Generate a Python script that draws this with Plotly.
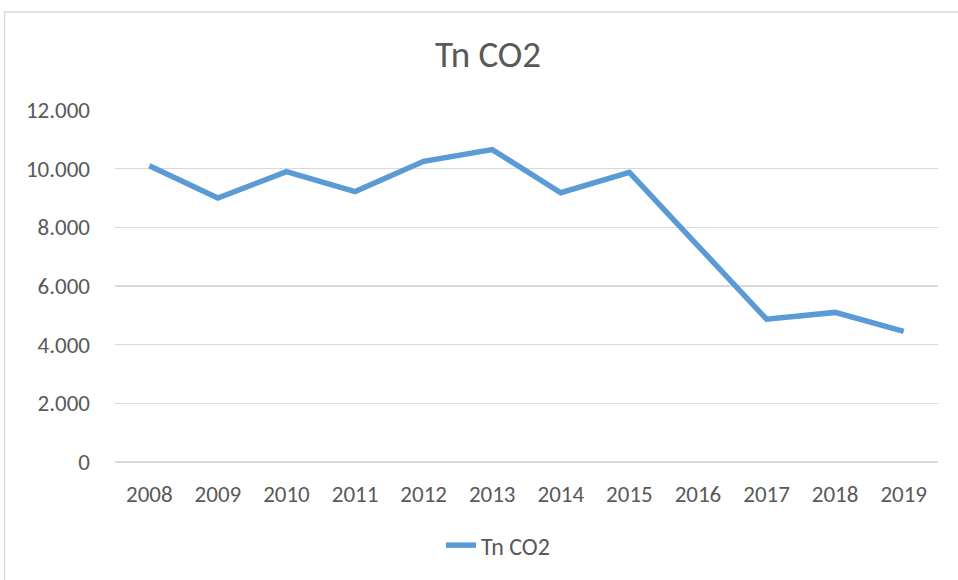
import plotly.graph_objects as go

years = ["2008", "2009", "2010", "2011", "2012", "2013", "2014", "2015", "2016", "2017", "2018", "2019"]
tn_co2 = [10100, 9000, 9900, 9220, 10250, 10650, 9180, 9870, 7370, 4870, 5100, 4450]
series_name = "Tn CO2"
y_ticks = [0, 2000, 4000, 6000, 8000, 10000, 12000]

FONT = "Carlito, Calibri, Lato, 'Open Sans', sans-serif"
W, H = 958, 580
L, T = 115, 110
pw, ph = 823, 354
R, B = W - L - pw, H - T - ph

def px_x(x):
    return (x - L) / pw

def px_y(y):
    return (T + ph - y) / ph

fig = go.Figure()
fig.add_trace(go.Scatter(
    x=years, y=tn_co2, mode="lines", name=series_name,
    line=dict(color="#5b9bd5", width=5.5),
))

fig.update_layout(
    width=W, height=H,
    margin=dict(l=L, r=R, t=T, b=B),
    paper_bgcolor="white", plot_bgcolor="white",
    separators=",.",
    font=dict(family=FONT, color="#595959", size=23),
    title=dict(text="Tn CO2", x=488 / W, xref="container", xanchor="center",
               y=1 - 54 / H, yref="container", yanchor="middle",
               font=dict(family=FONT, size=37, color="#595959")),
    showlegend=True,
    legend=dict(orientation="h", x=px_x(498), xanchor="center",
                y=px_y(548), yanchor="middle",
                font=dict(family=FONT, size=24, color="#595959"),
                bgcolor="rgba(0,0,0,0)"),
    xaxis=dict(type="category", range=[-0.5, 11.5], showgrid=False,
               showline=False, zeroline=False, ticks="",
               tickfont=dict(family=FONT, size=23, color="#595959"),
               ticklabelstandoff=16, fixedrange=True),
    yaxis=dict(range=[0, 12000], tickvals=y_ticks, tickformat=",d",
               showgrid=True, gridcolor="#d9d9d9", gridwidth=1.5,
               zeroline=True, zerolinecolor="#d9d9d9", zerolinewidth=1.5,
               showline=False, ticks="",
               tickfont=dict(family=FONT, size=23, color="#595959"),
               ticklabelstandoff=24, fixedrange=True),
    shapes=[dict(type="rect", xref="paper", yref="paper",
                 x0=px_x(4.5), x1=px_x(990),
                 y0=px_y(620), y1=px_y(11.5),
                 line=dict(color="#d9d9d9", width=1.5), fillcolor="rgba(0,0,0,0)",
                 layer="below")],
)

fig.write_html("out.html", config={"displayModeBar": False, "staticPlot": True},
               post_script="document.body.style.margin='0';")
